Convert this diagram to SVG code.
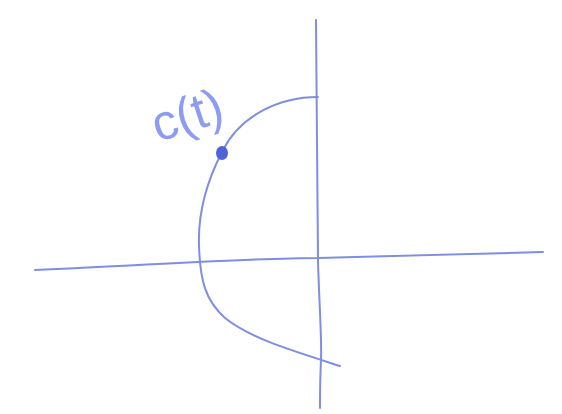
<svg xmlns="http://www.w3.org/2000/svg" width="562" height="414" viewBox="0 0 562 414">
<style>
.ln{fill:none;stroke:#7f8ee0;stroke-width:2;stroke-linecap:round;stroke-linejoin:round}
.lbl{font-family:"Liberation Sans",sans-serif;font-size:50px;fill:#8d9cf2}
</style>
<rect width="562" height="414" fill="#ffffff"/>
<path class="ln" d="M316,20 C317,120 317,200 318,260 C319,300 322,340 321,360 C320,380 320,395 320,408"/>
<path class="ln" d="M35,270 C150,265 250,258 318,258 C400,256 480,254 543,252"/>
<path class="ln" d="M318,97 C280,97 240,115 222,152 C205,185 198,215 199,245 C200,280 205,300 225,318 C250,338 290,350 340,366"/>
<ellipse cx="222" cy="153" rx="6" ry="7" fill="#4f62d6"/>
<text class="lbl" x="151" y="132" transform="rotate(-18 187 115)">c(t)</text>
</svg>
